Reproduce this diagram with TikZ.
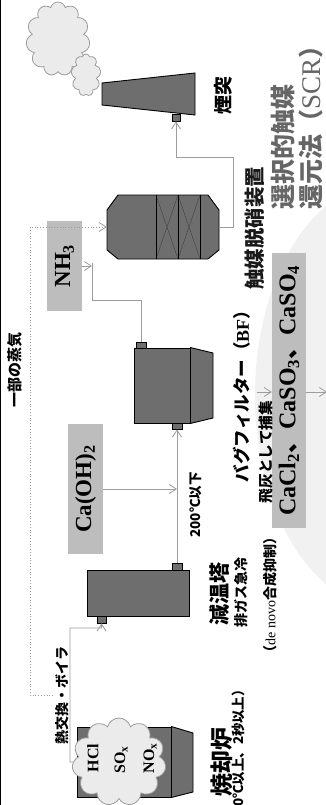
\documentclass[tikz,border=0pt]{standalone}
\usepackage{fontspec}
\setmainfont{Liberation Serif}
\newfontfamily\jp{Noto Sans CJK JP}
\usetikzlibrary{arrows.meta,shapes.symbols}

\definecolor{equip}{HTML}{6E6E6E}
\definecolor{chem}{HTML}{BDBDBD}
\definecolor{flowgray}{HTML}{9C9C9C}
\definecolor{puff}{HTML}{EBEBEB}
\definecolor{halo}{HTML}{F1F1F1}
\definecolor{titlegray}{HTML}{666666}

\newcommand{\jsize}[1]{\jp\bfseries\fontsize{#1}{#1}\selectfont}
\newcommand{\rsize}[1]{\rmfamily\mdseries\fontsize{#1}{#1}\selectfont}
\newcommand{\rbsize}[1]{\rmfamily\bfseries\fontsize{#1}{#1}\selectfont}

\tikzset{
  unit/.style={draw=black, fill=equip, line width=0.9pt},
  unitbox/.style={unit, inner sep=0pt},
  port/.style={draw=black, fill=equip, line width=0.7pt, inner sep=0pt,
    minimum width=9pt, minimum height=7pt},
  chembox/.style={fill=chem, inner sep=0pt, rotate=90},
  flowtip/.style={-{Straight Barb[length=7pt,width=9pt]}},
  flowline/.style={draw=flowgray, line width=0.8pt, flowtip},
  plainflow/.style={draw=flowgray, line width=0.8pt},
  steamline/.style={draw=flowgray, line width=0.8pt, dotted, flowtip},
  lbl/.style={rotate=90, inner sep=0pt},
  smoke/.style={cloud, cloud puffs=11, cloud ignores aspect, draw=flowgray,
    fill=puff, line width=0.8pt, inner sep=0pt},
}

\begin{document}
\begin{tikzpicture}[x=1pt,y=-1pt]
\useasboundingbox (0,0) rectangle (326,805);
\fill[white] (0,0) rectangle (326,805);

% pale backdrop behind the by-product area
\fill[halo] (385,395) ellipse [x radius=130pt, y radius=212pt];

% frame edge
\draw[line width=1pt] (0.5,0) -- (0.5,805);

% ---------- incinerator ----------
\node[unitbox, minimum width=94pt, minimum height=70pt] (furn) at (124,762) {};
\draw[unit] (furn.north east) -- (193,733) -- (193,792) -- (furn.south east) -- cycle;
\node[smoke, minimum width=94pt, minimum height=88pt] (fc) at (119,762) {};
\node[lbl, font=\rbsize{16}] (hcl) at (93,758) {HCl};
\node[lbl, font=\rbsize{16}] (sox) at (121,760) {SO\textsubscript{x}};
\node[lbl, font=\rbsize{16}] (nox) at (150,758) {NO\textsubscript{x}};

% ---------- quench tower ----------
\node[port, minimum width=9pt, minimum height=7pt] (qbp) at (101.5,619.5) {};
\node[port, minimum width=10pt, minimum height=7pt] (qtp) at (177,566.5) {};
\node[unitbox, minimum width=102pt, minimum height=46pt] (qt) at (138,593) {};

% ---------- bag filter ----------
\node[port, minimum width=10pt, minimum height=6pt] (bftp) at (141,345) {};
\node[port, minimum width=10pt, minimum height=6pt] (bfbp) at (177,426) {};
\node[unitbox, minimum width=56pt, minimum height=75pt] (bf) at (162,385.5) {};
\draw[unit] (bf.north east) -- (213,353) -- (213,418) -- (bf.south east) -- cycle;

% ---------- SCR reactor ----------
\node[inner sep=0pt, minimum width=112pt, minimum height=64pt] (scr) at (163,227) {};
\draw[unit] (107,210) -- (118,195) -- (208,195) -- (219,210) -- (219,250)
  -- (208,259) -- (118,259) -- (107,250) -- cycle;
\draw[line width=0.4pt, black!75] (156,195) -- (178,259) (178,195) -- (156,259)
  (178,195) -- (200,259) (200,195) -- (178,259);
\draw[line width=0.9pt] (156,195) -- (156,259) (178,195) -- (178,259) (200,195) -- (200,259);

% ---------- stack ----------
\node[port, minimum width=8pt, minimum height=7pt] (chp) at (176,117.5) {};
\draw[unit] (102,83) -- (195,73) -- (195,115) -- (102,105) -- cycle;
\node[smoke, minimum width=64pt, minimum height=74pt] (sm1) at (58,39) {};
\node[smoke, cloud puffs=9, minimum width=30pt, minimum height=42pt] (sm2) at (86,75) {};

% ---------- reagents ----------
\node[chembox, minimum width=130pt, minimum height=35pt, font=\rbsize{23}] (caoh) at (85.5,489) {Ca(OH)\textsubscript{2}};
\node[chembox, minimum width=90pt, minimum height=35pt, font=\rbsize{23}] (nh3) at (64.5,266) {NH\textsubscript{3}};
\node[chembox, minimum width=275pt, minimum height=34pt, font=\rbsize{24}] (cacl) at (289,390.5)
  {CaCl\textsubscript{2}{\jp 、}CaSO\textsubscript{3}{\jp 、}CaSO\textsubscript{4}};

% ---------- gas flow ----------
\draw[flowline] (fc.west) -- (70,762) -- (70,628) -- (101.5,628) -- (qbp.south);
\draw[flowline] (qtp.north) -- (bfbp.south);
\draw[flowline] (caoh.south) -- (caoh.south -| qtp.north);
\coordinate (nhj) at (92,263);
\draw[plainflow] (bftp.north) |- (92,300) -- (nhj);
\draw[flowline] (nh3.south) -- (nh3.south -| nhj);
\coordinate (steamsrc) at (53,695);
\draw[steamline] (steamsrc) -- (30,695) -- (30,227) -- (scr.west);
\draw[flowline] (scr.east) -- (233,227) -- (233,157) -- (176,157) -- (chp.south);
\coordinate (ash) at (257,392);
\draw[flowline] (ash) -- (ash -| cacl.north);
\coordinate (out) at (327,392);
\draw[flowline] (cacl.south |- ash) -- (out);

% ---------- labels ----------
\node[lbl, font=\jsize{15}] (steamlbl) at (15,370) {一部の蒸気};
\node[lbl, font=\jsize{14}] (boiler) at (62,695) {熱交換・ボイラ};
\node[lbl, font=\jsize{23}] (furnlbl) at (222,762) {焼却炉};
\node[lbl, font=\jsize{13.4}, anchor=east] (furncond) at (238,683) {（800℃以上、2秒以上）};
\node[lbl, font=\jsize{21}] (qtlbl) at (220,594) {減温塔};
\node[lbl, font=\jsize{14}] (quench) at (241,592) {排ガス急冷};
\node[lbl, font=\jsize{14}] (denovo) at (270,595) {（{\rsize{14}de novo}合成抑制）};
\node[lbl, font=\jsize{13.5}] (temp) at (196,505) {200℃以下};
\node[lbl, font=\jsize{17.5}] (bflbl) at (242,392) {バグフィルター（{\rbsize{18}BF}）};
\node[lbl, font=\jsize{14.7}] (flyash) at (266,452) {飛灰として捕集};
\node[lbl, font=\jsize{20.5}, text=black!90] (scrlbl) at (255,228) {触媒脱硝装置};
\node[lbl, font=\jsize{19}] (stacklbl) at (223,96) {煙突};
\node[lbl, font=\jsize{25}, text=titlegray, anchor=west] (title1) at (283,210) {選択的触媒};
\node[lbl, font=\jsize{25}, text=titlegray, anchor=west] (title2) at (311,210) {還元法（{\rsize{27}SCR}）};
\end{tikzpicture}
\end{document}
